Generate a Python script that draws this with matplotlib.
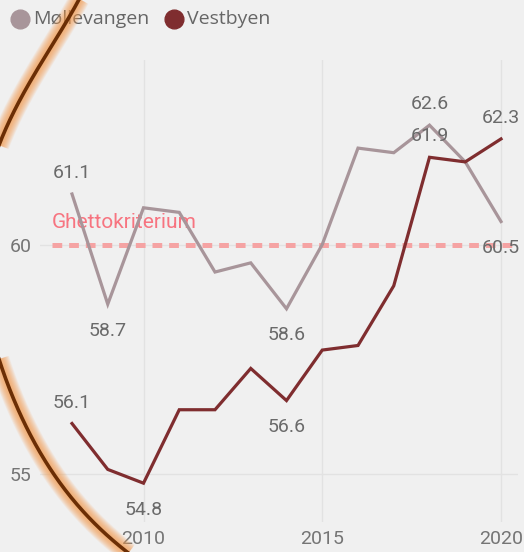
import matplotlib
matplotlib.use("Agg")
import matplotlib.pyplot as plt
from matplotlib.lines import Line2D
import numpy as np

# --- data ---
years = list(range(2008, 2021))
mollevangen = [61.1, 58.7, 60.8, 60.7, 59.4, 59.6, 58.6, 60.0, 62.1, 62.0, 62.6, 61.8, 60.5]
vestbyen = [56.1, 55.1, 54.8, 56.4, 56.4, 57.3, 56.6, 57.7, 57.8, 59.1, 61.9, 61.8, 62.3]
series_names = ["Møllevangen", "Vestbyen"]
# which points carry a data label, and on which side
moll_labels = [(0, "above"), (1, "below"), (6, "below"), (10, "above"), (12, "below")]
vest_labels = [(0, "above"), (2, "below"), (6, "below"), (10, "above"), (12, "above")]
threshold = 60
threshold_label = "Ghettokriterium"
x_ticks = [2010, 2015, 2020]
y_ticks = [55, 60]

# hand-drawn highlight arc (figure pixels, y then x)
arc_y = [-10, 0, 70, 100, 130, 175, 247, 335, 365, 440, 490, 530, 552, 565]
arc_x = [84, 78, 40, 20, 0, -9, -18, -9, 0, 33, 67, 100, 127, 145]

BG = "#f0f0f0"
MOLL_C = "#a8959a"
VEST_C = "#7f2d2f"
LABEL_C = "#6a6a6a"
W, H = 524, 552

plt.rcParams["lines.scale_dashes"] = False
fig = plt.figure(figsize=(W / 100, H / 100), dpi=100, facecolor=BG)

# axes placed in pixel terms
left, right, top, bottom = 40, 518, 60, 522
ax = fig.add_axes([left / W, 1 - bottom / H, (right - left) / W, (bottom - top) / H])
ax.set_facecolor(BG)

px_per_year = (501 - 72) / 12
ax.set_xlim(2008 - (72 - left) / px_per_year, 2020 + (right - 501) / px_per_year)
px_per_unit = (474 - 244.5) / 5
ax.set_ylim(55 - (bottom - 474) / px_per_unit, 60 + (244.5 - top) / px_per_unit)

for s in ax.spines.values():
    s.set_visible(False)
ax.set_xticks(x_ticks)
ax.set_yticks(y_ticks)
ax.tick_params(length=0, labelsize=14, labelcolor="#757575", pad=6)
for lbl in ax.get_xticklabels() + ax.get_yticklabels():
    lbl.set_fontfamily("Roboto")
ax.grid(True, color="#e2e2e2", linewidth=1)
ax.set_axisbelow(True)

# threshold line
ax.axhline(threshold, xmin=(52 - left) / (right - left), xmax=(515 - left) / (right - left),
           color="#f5a3a3", linewidth=3.6, dashes=(7, 5), zorder=2)
ax.text(ax.get_xlim()[0] + (52 - left) / px_per_year, threshold + 22 / px_per_unit,
        threshold_label, color="#f77480", fontsize=15, family="Roboto",
        ha="left", va="center", zorder=3)

ax.plot(years, mollevangen, color=MOLL_C, linewidth=2.3, zorder=4, solid_joinstyle="miter")
ax.plot(years, vestbyen, color=VEST_C, linewidth=2.3, zorder=5, solid_joinstyle="miter")

for vals, spec in [(mollevangen, moll_labels), (vestbyen, vest_labels)]:
    for i, side in spec:
        dy = 15 if side == "above" else -19
        ax.annotate(f"{vals[i]:.1f}", (years[i], vals[i]), xytext=(0, dy),
                    textcoords="offset points", ha="center", va="center",
                    fontsize=14, family="Roboto", color=LABEL_C, zorder=6)

# legend drawn by hand at the top
leg_items = [(series_names[0], MOLL_C, 20, 33), (series_names[1], VEST_C, 173.5, 187)]
for name, col, mx, tx in leg_items:
    fig.add_artist(Line2D([mx / W], [1 - 19 / H], marker="o", markersize=13.5,
                          color=col, linestyle="", transform=fig.transFigure))
    fig.text(tx / W, 1 - 19 / H, name, fontsize=14, family="Open Sans",
             color="#666666", ha="left", va="center")

# orange highlight arc over everything, soft glow from stacked strokes
ov = fig.add_axes([0, 0, 1, 1], zorder=10)
ov.set_xlim(0, W)
ov.set_ylim(H, 0)
ov.axis("off")
ov.patch.set_alpha(0)
coef = np.polyfit(arc_y, arc_x, 5)
yy = np.linspace(-10, 565, 400)
xx = np.polyval(coef, yy)
for lw in np.linspace(15, 4, 12):
    ov.plot(xx, yy, color="#f59a4c", linewidth=lw, alpha=0.09, solid_capstyle="butt")
ov.plot(xx, yy, color="#6b2e05", linewidth=2.6)

fig.savefig("out.png", dpi=100, facecolor=BG)
